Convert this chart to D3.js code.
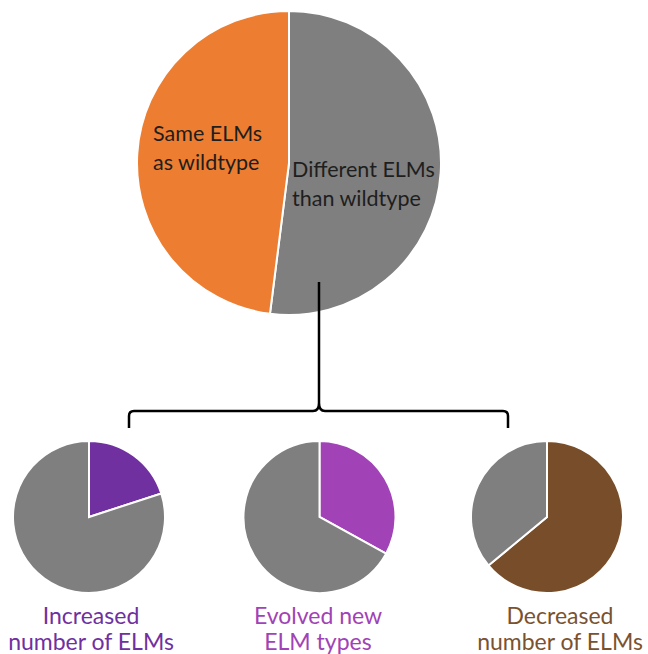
<!DOCTYPE html>
<meta charset="utf-8">
<style>
body { margin: 0; background: #fff; }
svg { display: block; }
.lbl { font-family: Lato, "Open Sans", sans-serif; }
.slice { stroke: #fff; stroke-width: 2px; }
.bracket { fill: none; stroke: #000; stroke-width: 2.5px; }
</style>
<svg width="648" height="654"></svg>
<script src="https://d3js.org/d3.v7.min.js"></script>
<script>

// main pie
var mainLabels = ["Different ELMs|than wildtype", "Same ELMs|as wildtype"],
    mainValues = [52, 48],
    mainColors = ["#7f7f7f", "#ed7d31"];

// sub pies (highlighted slice first, then the rest)
var subLabels = ["Increased|number of ELMs", "Evolved new|ELM types", "Decreased|number of ELMs"],
    subValues = [[20, 80], [33, 67], [64, 36]],
    subColors = [["#7030a0", "#7f7f7f"], ["#a142b6", "#7f7f7f"], ["#774e29", "#7f7f7f"]],
    subTextColors = ["#7030a0", "#a142b6", "#7a5230"];

var svg = d3.select("svg");

var pie = d3.pie().sort(null).value(function(d) { return d; });

// big pie
var bigR = 152;
var big = svg.append("g").attr("transform", "translate(289,163)");
var bigArc = d3.arc().innerRadius(0).outerRadius(bigR);

big.selectAll("path")
  .data(pie(mainValues))
  .enter().append("path")
    .attr("class", "slice")
    .attr("d", bigArc)
    .attr("fill", function(d, i) { return mainColors[i]; });

var mainLabelPos = [[292, 177], [153, 141]];
mainLabels.forEach(function(l, i) {
  var t = svg.append("text")
    .attr("class", "lbl")
    .style("font-size", "21.5px")
    .attr("fill", "#1e1e1e")
    .attr("x", mainLabelPos[i][0])
    .attr("y", mainLabelPos[i][1]);
  l.split("|").forEach(function(s, j) {
    t.append("tspan").attr("x", mainLabelPos[i][0]).attr("dy", j ? 28.5 : 0).text(s);
  });
});

// connector + bracket
svg.append("path")
  .attr("class", "bracket")
  .attr("d", "M319,282 L319,403 Q319,411 313,411 L134,411 Q129,411 129,416 L129,428" +
             " M319,403 Q319,411 325,411 L503,411 Q508,411 508,416 L508,428");

// small pies
var subCx = [89, 319.5, 547],
    subCy = 517,
    subR = 76;
var subArc = d3.arc().innerRadius(0).outerRadius(subR);
var subLabelX = [91, 318, 560];

subValues.forEach(function(vals, k) {
  var g = svg.append("g")
    .attr("transform", "translate(" + subCx[k] + "," + subCy + ")");
  g.selectAll("path")
    .data(pie(vals))
    .enter().append("path")
      .attr("class", "slice")
      .attr("d", subArc)
      .attr("fill", function(d, i) { return subColors[k][i]; });

  var t = svg.append("text")
    .attr("class", "lbl")
    .style("font-size", "23px")
    .attr("text-anchor", "middle")
    .attr("fill", subTextColors[k])
    .attr("x", subLabelX[k])
    .attr("y", 624);
  subLabels[k].split("|").forEach(function(s, j) {
    t.append("tspan").attr("x", subLabelX[k]).attr("dy", j ? 26 : 0).text(s);
  });
});

</script>
